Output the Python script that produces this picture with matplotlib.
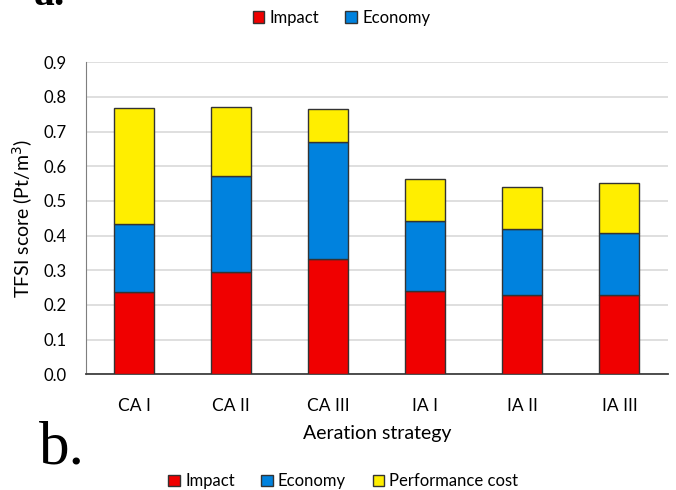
import matplotlib.pyplot as plt
from matplotlib.ticker import FormatStrFormatter

strategies = ['CA I', 'CA II', 'CA III', 'IA I', 'IA II', 'IA III']
impact = [0.237, 0.295, 0.334, 0.241, 0.230, 0.228]
economy = [0.197, 0.278, 0.336, 0.201, 0.189, 0.181]
performance = [0.334, 0.199, 0.094, 0.120, 0.122, 0.143]

plt.rcParams['font.family'] = ['Lato', 'DejaVu Sans']

fig = plt.figure(figsize=(6.76, 4.90), dpi=100)
ax = fig.add_axes([0.127, 0.236, 0.861, 0.637])

x = range(len(strategies))
bottom2 = [a + b for a, b in zip(impact, economy)]
edge = dict(edgecolor='#333333', linewidth=1.0, width=0.41, zorder=3)
b1 = ax.bar(x, impact, color='#F00000', label='Impact', **edge)
b2 = ax.bar(x, economy, bottom=impact, color='#0082DE', label='Economy', **edge)
b3 = ax.bar(x, performance, bottom=bottom2, color='#FFEE00', label='Performance cost', **edge)

ax.set_xlim(-0.5, len(strategies) - 0.5)
ax.set_ylim(0, 0.9)
ax.set_yticks([i / 10 for i in range(10)])
ax.yaxis.set_major_formatter(FormatStrFormatter('%.1f'))
ax.set_xticks(list(x))
ax.set_xticklabels(strategies, fontsize=12.5)
ax.tick_params(axis='y', labelsize=12, length=0, pad=14)
ax.tick_params(axis='x', length=0, pad=17)
ax.grid(axis='y', color='#D9D9D9', linewidth=1.2, zorder=0)
ax.set_axisbelow(True)
for s in ['top', 'right']:
    ax.spines[s].set_visible(False)
ax.spines['left'].set_color('#7F7F7F')
ax.spines['bottom'].set_color('#404040')
ax.spines['bottom'].set_linewidth(1.3)

ax.set_ylabel(r'TFSI score (Pt/m$^{3}$)', fontsize=14, labelpad=6)
ax.set_xlabel('Aeration strategy', fontsize=14, labelpad=8)

leg_kw = dict(frameon=False, ncol=3, fontsize=12, handlelength=0.7, handleheight=0.7,
              handletextpad=0.3, columnspacing=1.6, borderaxespad=0)
fig.legend(handles=[b1, b2], loc='center', bbox_to_anchor=(0.505, 0.963), **leg_kw)
fig.legend(handles=[b1, b2, b3], loc='center', bbox_to_anchor=(0.508, 0.018), **leg_kw)

fig.text(0.058, 0.055, 'b.', fontsize=44, family='Liberation Serif', va='baseline')
fig.text(0.05, 0.99, 'a.', fontsize=30, family='Liberation Serif', fontweight='bold', va='baseline')

fig.savefig('out.png', dpi=100)
